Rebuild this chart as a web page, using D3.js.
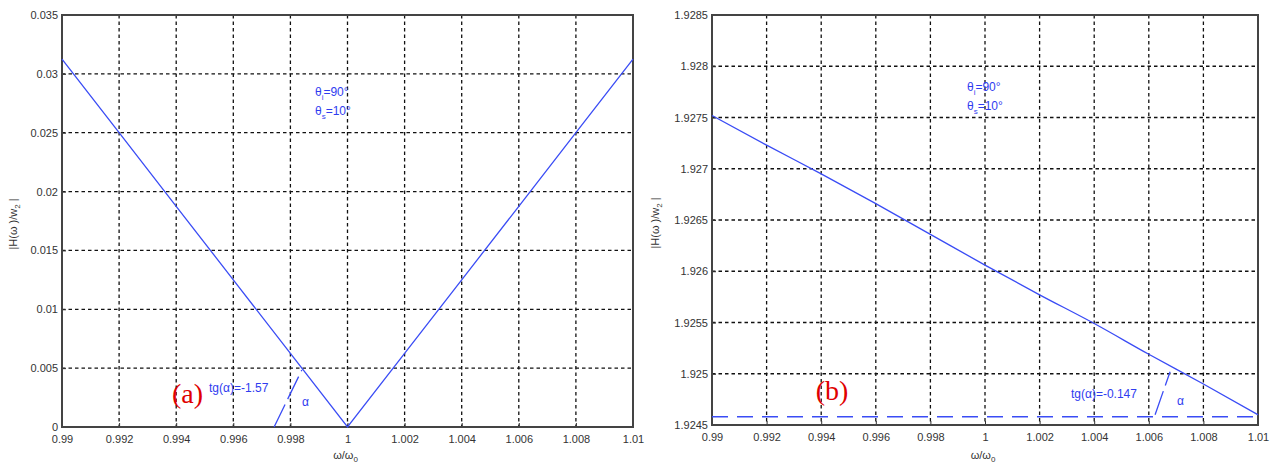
<!DOCTYPE html>
<html>
<head>
<meta charset="utf-8">
<script src="https://cdn.jsdelivr.net/npm/d3@7"></script>
<style>
  body { margin: 0; background: #fff; }
  svg { display: block; }
  .tick text { font-family: "Liberation Sans", Arial, sans-serif; font-size: 11px; fill: #333; }
  .lbl { font-family: "Liberation Sans", Arial, sans-serif; font-size: 11px; fill: #333; }
  .blue { font-family: "Liberation Sans", Arial, sans-serif; font-size: 12px; fill: #2f3cf0; }
  .red { font-family: "Liberation Serif", "Times New Roman", serif; font-size: 28px; fill: #e00000; }
</style>
</head>
<body>
<svg id="chart" width="1270" height="464"></svg>
<script>
// shared x axis (omega / omega0)
const xTicks = [0.99, 0.992, 0.994, 0.996, 0.998, 1, 1.002, 1.004, 1.006, 1.008, 1.01];
const xTickLabels = ['0.99', '0.992', '0.994', '0.996', '0.998', '1', '1.002', '1.004', '1.006', '1.008', '1.01'];

// panel (a)
const aYTicks = [0, 0.005, 0.01, 0.015, 0.02, 0.025, 0.03, 0.035];
const aYTickLabels = ['0', '0.005', '0.01', '0.015', '0.02', '0.025', '0.03', '0.035'];
const aX = [0.99, 0.992, 0.994, 0.996, 0.998, 1, 1.002, 1.004, 1.006, 1.008, 1.01];
const aY = [0.03125, 0.025, 0.01875, 0.0125, 0.00625, 0, 0.00625, 0.0125, 0.01875, 0.025, 0.03125];
const aSlopeX = [0.99743, 0.9984];
const aSlopeY = [0, 0.00484];

// panel (b)
const bYTicks = [1.9245, 1.925, 1.9255, 1.926, 1.9265, 1.927, 1.9275, 1.928, 1.9285];
const bYTickLabels = ['1.9245', '1.925', '1.9255', '1.926', '1.9265', '1.927', '1.9275', '1.928', '1.9285'];
const bX = [0.99, 0.992, 0.994, 0.996, 0.998, 1, 1.002, 1.004, 1.006, 1.008, 1.01];
const bY = [1.92752, 1.92723, 1.92695, 1.92666, 1.92636, 1.92606, 1.92577, 1.92549, 1.92519, 1.9249, 1.9246];
const bBase = 1.92458;
const bSlopeX = [1.00623, 1.00678];
const bSlopeY = [1.9246, 1.92502];

const svg = d3.select('#chart');

function panel(opt) {
  const x = d3.scaleLinear().domain([0.99, 1.01]).range([opt.left, opt.right]);
  const y = d3.scaleLinear().domain(opt.yDomain).range([opt.bottom, opt.top]);
  const g = svg.append('g');

  // grid
  g.append('g').selectAll('line.gx').data(xTicks.slice(1, -1)).join('line')
    .attr('x1', d => x(d)).attr('x2', d => x(d))
    .attr('y1', opt.top).attr('y2', opt.bottom)
    .attr('stroke', '#111').attr('stroke-width', 1.3).attr('stroke-dasharray', '3.5,3');
  g.append('g').selectAll('line.gy').data(opt.yTicks.slice(1, -1)).join('line')
    .attr('y1', d => y(d)).attr('y2', d => y(d))
    .attr('x1', opt.left).attr('x2', opt.right)
    .attr('stroke', '#111').attr('stroke-width', 1.3).attr('stroke-dasharray', '3.5,3');

  // axes
  const xa = g.append('g').attr('transform', `translate(0,${opt.bottom})`)
    .call(d3.axisBottom(x).tickValues(xTicks).tickFormat((d, i) => xTickLabels[i]).tickSize(-4).tickPadding(8));
  const ya = g.append('g').attr('transform', `translate(${opt.left},0)`)
    .call(d3.axisLeft(y).tickValues(opt.yTicks).tickFormat((d, i) => opt.yTickLabels[i]).tickSize(-4).tickPadding(4));
  [xa, ya].forEach(a => {
    a.select('.domain').remove();
    a.selectAll('.tick line').attr('stroke', '#333');
  });
  g.append('rect')
    .attr('x', opt.left).attr('y', opt.top)
    .attr('width', opt.right - opt.left).attr('height', opt.bottom - opt.top)
    .attr('fill', 'none').attr('stroke', '#444').attr('stroke-width', 2);

  // curve
  g.append('path').datum(opt.xs.map((d, i) => [d, opt.ys[i]]))
    .attr('d', d3.line().curve(opt.curve).x(d => x(d[0])).y(d => y(d[1])))
    .attr('fill', 'none').attr('stroke', '#3a4cf5').attr('stroke-width', 1.3);

  // axis labels
  const yl = g.append('text').attr('class', 'lbl')
    .attr('transform', `translate(${opt.left - opt.ylabOff},${(opt.top + opt.bottom) / 2 + 3}) rotate(-90)`)
    .attr('text-anchor', 'middle');
  yl.append('tspan').text('|H(ω )/w');
  yl.append('tspan').attr('dy', 3).attr('font-size', 8).text('2');
  yl.append('tspan').attr('dy', -3).text(' |');

  const xl = g.append('text').attr('class', 'lbl')
    .attr('x', x(1) - 2).attr('y', 459).attr('text-anchor', 'middle');
  xl.append('tspan').text('ω/ω');
  xl.append('tspan').attr('dy', 3).attr('font-size', 8).text('0');

  // angle annotations
  const t1 = g.append('text').attr('class', 'blue').attr('x', x(opt.thetaX)).attr('y', y(opt.thetaY));
  t1.append('tspan').text('θ');
  t1.append('tspan').attr('dy', 4).attr('font-size', 8).text('i');
  t1.append('tspan').attr('dy', -4).text('=90°');
  const t2 = g.append('text').attr('class', 'blue').attr('x', x(opt.thetaX)).attr('y', y(opt.thetaY) + 19);
  t2.append('tspan').text('θ');
  t2.append('tspan').attr('dy', 4).attr('font-size', 8).text('s');
  t2.append('tspan').attr('dy', -4).text('=10°');

  g.append('line')
    .attr('x1', x(opt.slopeX[0])).attr('y1', y(opt.slopeY[0]))
    .attr('x2', x(opt.slopeX[1])).attr('y2', y(opt.slopeY[1]))
    .attr('stroke', '#3a4cf5').attr('stroke-width', 1.3).attr('stroke-dasharray', '25,6');

  g.append('text').attr('class', 'blue').attr('x', x(opt.tgX)).attr('y', y(opt.tgY))
    .text(opt.tgText);
  g.append('text').attr('class', 'blue').attr('x', x(opt.alphaX)).attr('y', y(opt.alphaY))
    .attr('font-size', 14).text('α');
  g.append('text').attr('class', 'red').attr('x', x(opt.tagX)).attr('y', y(opt.tagY))
    .text(opt.tag);
  return {x, y, g};
}

panel({
  left: 62, right: 633, top: 15, bottom: 427, ylabOff: 45,
  yDomain: [0, 0.035], yTicks: aYTicks, yTickLabels: aYTickLabels,
  xs: aX, ys: aY, curve: d3.curveLinear,
  thetaX: 0.99886, thetaY: 0.0281,
  slopeX: aSlopeX, slopeY: aSlopeY,
  tgX: 0.99515, tgY: 0.003, tgText: 'tg(α)=-1.57',
  alphaX: 0.99841, alphaY: 0.00178,
  tagX: 0.99385, tagY: 0.002, tag: '(a)'
});

const pb = panel({
  left: 712, right: 1258, top: 15, bottom: 425, ylabOff: 53,
  yDomain: [1.9245, 1.9285], yTicks: bYTicks, yTickLabels: bYTickLabels,
  xs: bX, ys: bY, curve: d3.curveMonotoneX,
  thetaX: 0.99934, thetaY: 1.92776,
  slopeX: bSlopeX, slopeY: bSlopeY,
  tgX: 1.00315, tgY: 1.92476, tgText: 'tg(α)=-0.147',
  alphaX: 1.00703, alphaY: 1.9247,
  tagX: 0.9938, tagY: 1.92474, tag: '(b)'
});

// horizontal reference line in (b)
pb.g.append('line')
  .attr('x1', pb.x(0.99)).attr('x2', pb.x(1.01))
  .attr('y1', pb.y(bBase)).attr('y2', pb.y(bBase))
  .attr('stroke', '#3a4cf5').attr('stroke-width', 1.6).attr('stroke-dasharray', '16,9');
</script>
</body>
</html>
